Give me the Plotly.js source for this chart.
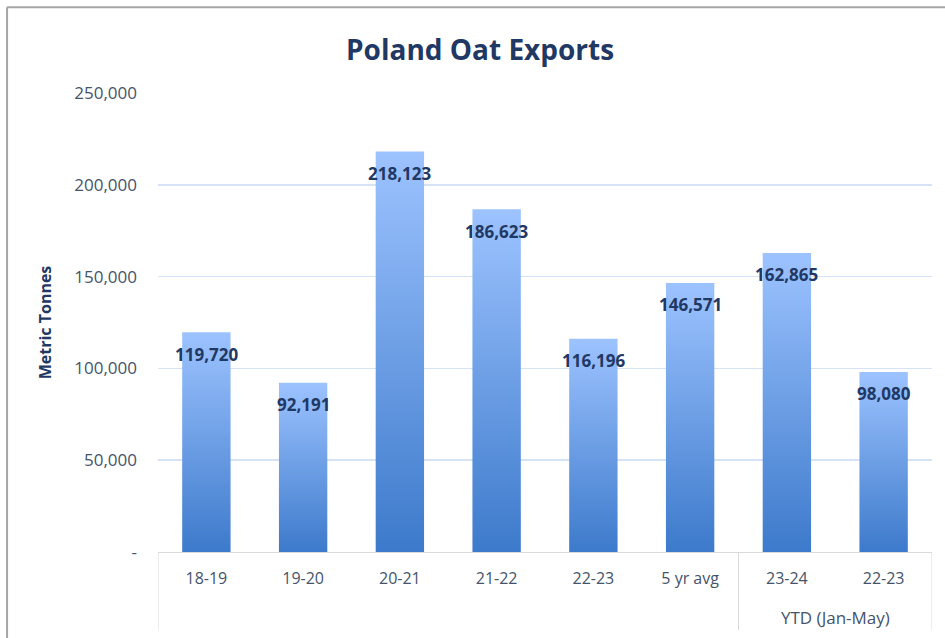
<!DOCTYPE html>
<html>
<head>
<meta charset="utf-8">
<script src="https://cdn.plot.ly/plotly-3.0.1.min.js"></script>
<style>
  html, body { margin: 0; padding: 0; background: #fff; }
  #chart { width: 945px; height: 638px; }
</style>
</head>
<body>
<div id="chart"></div>
<script>
const categories = ["18-19", "19-20", "20-21", "21-22", "22-23", "5 yr avg", "23-24", "22-23"];
const exportsValues = [119720, 92191, 218123, 186623, 116196, 146571, 162865, 98080];
const yTickVals = [0, 50000, 100000, 150000, 200000, 250000];
const yTickText = ["-", "50,000", "100,000", "150,000", "200,000", "250,000"];
const groupLabel = "YTD (Jan-May)";

const xPos = categories.map((c, i) => i);
const navy = "#1F3864";
const tickColor = "#44546A";

const trace = {
  type: "bar",
  x: xPos,
  y: exportsValues,
  width: 0.5,
  marker: { color: "#6A9CE6", line: { width: 0 } },
  hoverinfo: "skip"
};

const labelAnns = exportsValues.map((v, i) => ({
  x: i, y: v, xref: "x", yref: "y",
  text: v.toLocaleString("en-US"),
  showarrow: false, yanchor: "middle", yshift: -22,
  font: { family: "Open Sans", size: 17, color: navy, weight: "bold" }
}));

labelAnns.push({
  x: 6.5, y: 0, xref: "x", yref: "paper",
  text: groupLabel, showarrow: false, yanchor: "middle", yshift: -65,
  font: { family: "Open Sans", size: 17, color: tickColor }
});

const lineStyle = { color: "#D9D9D9", width: 1 };
const shapes = [-0.5, 5.5, 7.5].map(x => ({
  type: "line", xref: "x", yref: "paper", x0: x, x1: x, y0: 0, y1: -0.17, line: lineStyle
}));
// outer frame (top and left)
shapes.push({ type: "line", xref: "paper", yref: "paper", x0: -0.195, x1: 1.1, y0: 1.187, y1: 1.187, line: { color: "#A6A6A6", width: 2 } });
shapes.push({ type: "line", xref: "paper", yref: "paper", x0: -0.195, x1: -0.195, y0: 1.187, y1: -0.2, line: { color: "#A6A6A6", width: 2 } });

const layout = {
  width: 945, height: 638,
  margin: { l: 158, r: 13, t: 93, b: 86 },
  paper_bgcolor: "#fff", plot_bgcolor: "#fff",
  title: {
    text: "<b>Poland Oat Exports</b>",
    x: 0.508, xanchor: "center", y: 0.922, yanchor: "middle",
    font: { family: "Open Sans", size: 28, color: navy }
  },
  xaxis: {
    range: [-0.5, 7.5],
    tickvals: xPos, ticktext: categories,
    showgrid: false, zeroline: false,
    showline: true, linecolor: "#D9D9D9", linewidth: 1,
    ticks: "", ticklabelstandoff: 12,
    tickfont: { family: "Open Sans", size: 16, color: tickColor },
    fixedrange: true
  },
  yaxis: {
    range: [0, 250000],
    tickvals: yTickVals, ticktext: yTickText,
    showgrid: true, gridcolor: "#D6E2F5", gridwidth: 1.5,
    zeroline: false, showline: false, ticks: "",
    ticklabelstandoff: 20,
    tickfont: { family: "Open Sans", size: 17, color: tickColor },
    title: { text: "<b>Metric Tonnes</b>", standoff: 18, font: { family: "Open Sans", size: 16, color: navy } },
    fixedrange: true
  },
  showlegend: false,
  annotations: labelAnns,
  shapes: shapes
};

Plotly.newPlot("chart", [trace], layout, { displayModeBar: false, staticPlot: true }).then(() => {
  const svg = document.querySelector("#chart .main-svg");
  const ns = "http://www.w3.org/2000/svg";
  let defs = svg.querySelector("defs");
  if (!defs) { defs = document.createElementNS(ns, "defs"); svg.insertBefore(defs, svg.firstChild); }
  const grad = document.createElementNS(ns, "linearGradient");
  grad.setAttribute("id", "barGrad");
  grad.setAttribute("x1", "0"); grad.setAttribute("y1", "0");
  grad.setAttribute("x2", "0"); grad.setAttribute("y2", "1");
  [["0%", "#9DC3FF"], ["100%", "#3D7ACB"]].forEach(([o, c]) => {
    const s = document.createElementNS(ns, "stop");
    s.setAttribute("offset", o); s.setAttribute("stop-color", c);
    grad.appendChild(s);
  });
  defs.appendChild(grad);
  document.querySelectorAll("#chart .trace.bars .point path").forEach(p => {
    p.style.fill = "url(#barGrad)";
  });
});
</script>
</body>
</html>
